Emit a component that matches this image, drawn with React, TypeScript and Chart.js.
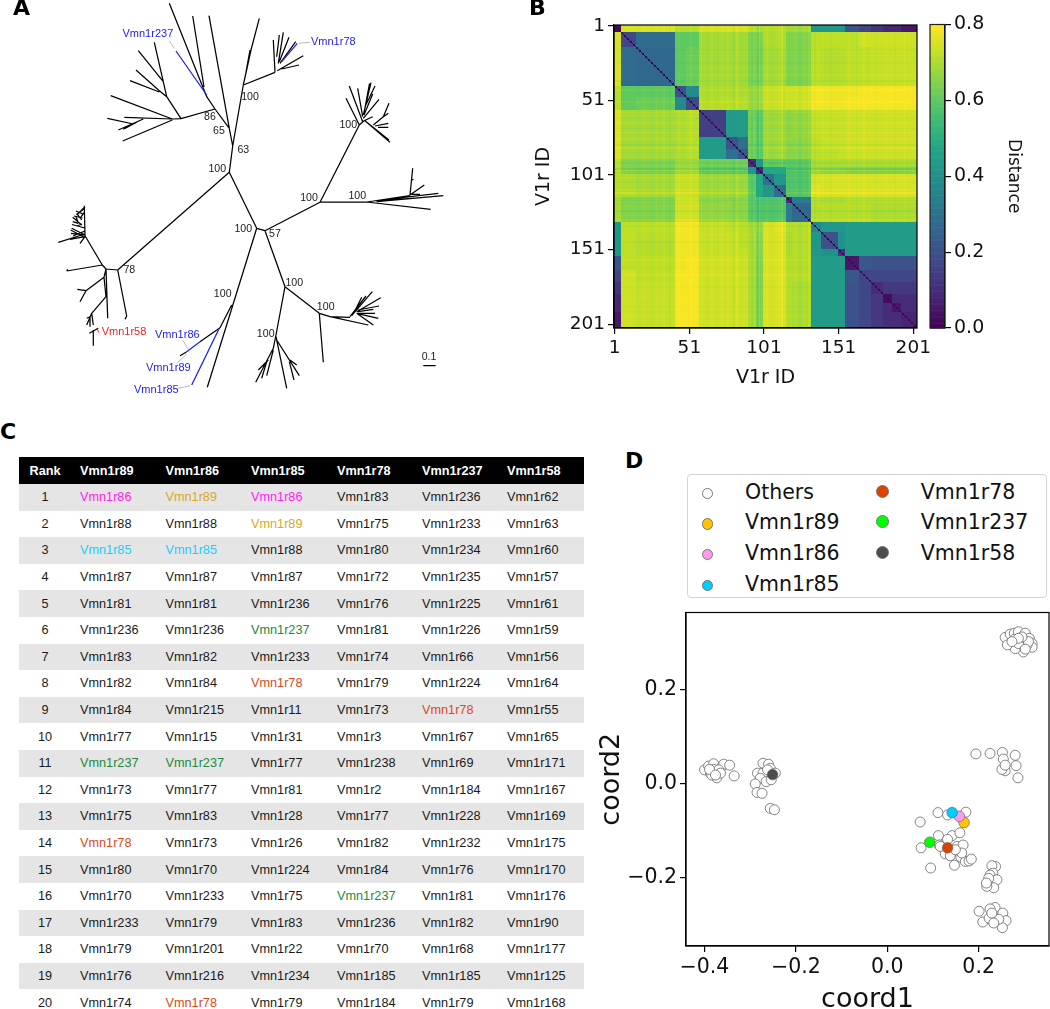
import React, { useEffect, useRef } from "react";
import { Chart, registerables } from "chart.js";

Chart.register(...registerables);

const SANS = "'DejaVu Sans'";
const ARIAL = "'Liberation Sans'";

/* ---------- Panel A : unrooted tree, edges as [x1,y1,x2,y2] in tree units ---------- */
const treeEdgesBlack = [
  [229.3,172.3,232.7,146],[232.7,146,243.3,85],[243.3,85,251,50],[251,50,259.3,18.3],[246,72,250,50],
  [232.7,146,229.3,128.3],[229.3,128.3,215,109],[215,109,206.7,96.7],[229.3,128.3,209,15.7],
  [206.7,96.7,169.3,3.3],[204,87,192.7,16],
  [215,109,181,118.7],[181,118.7,166.7,96.7],[166.7,96.7,154.3,42.3],[163.3,81.7,138.3,50.7],
  [166.7,96.7,159.3,90.7],[159.3,90.7,136,70],[159.3,92,130,80.7],
  [181,118.7,172.3,119],[172.3,119,110.7,95.7],[172.3,119,124.3,117.3],[172.3,120,122.7,141],
  [143.3,119,118.3,130],[107.3,118.3,133.3,124],[136.7,122.3,123.3,129.3],[135,123,125,128.5],
  [243.3,85,275,72.3],[275,72.3,273.3,40],[276.7,56.7,279.3,35],[278.3,63.3,283.3,32.3],[279.3,61.7,289,37.3],
  [280,63.3,295.7,41.7],[277.3,70.7,303.3,55.7],[281.7,69,299,65],
  [229.3,172.3,256.7,228.3],[256.7,228.3,265,230.7],[265,230.7,320,202.3],
  [320,202.3,359.3,125],[359.3,125,364,120.7],[359.3,125,346,98.3],[362.7,121.7,349.3,86],[362.7,116.7,357.7,88.3],
  [363.3,115,371,82.7],[364,113,369.5,83.5],[365,106.7,375,86],[364,115,372.7,94],[363.3,118.3,379,99.3],
  [364,120.7,372.7,116.7],[365,120.7,390,142.3],[368,123.3,389,140],[373.3,125,383.3,116.7],[383.3,116.7,389,103.3],
  [382.7,117.3,388.3,113.3],[375,126,388.3,123.3],[378,127.3,388.3,127.3],
  [320,202,366.7,202],[366.7,202,410,195.7],[366.7,202,430.7,209.3],[376.7,201.7,443.3,195.7],[373.3,201,438.3,193.3],
  [385,200,430,197],[410,195,412.7,168.3],[410,195,424.3,185],[411.7,194.3,420,194.3],[411.7,180,413.5,179.3],
  [229.3,172.3,117.7,270],[117.7,270,106,269],[106,269,102.3,265],[117.7,270,126.7,316],[126.7,316,125,319.3],
  [106,269,107.7,318.3],[102.3,265,85,235.7],[85,235.7,84.3,205.7],[85,234,58.3,242.3],[83.3,236.7,70.7,230],
  [81.7,225,72.7,217.3],[85,206.7,76.7,215],[81.7,220,76.7,213.3],[85,235,71.7,228.3],[85,235,71,233.3],
  [85,236.7,70,239.3],[78.3,223.3,72.7,221.7],[80,243.3,85,236.7],
  [83.8,209,78,213.5],[83,214,76,211],[82.5,218,74,216],[84.5,212,80,218],[82,224,77,226],[78,222,76,217],[84.8,228,72,224.5],[85,231,73,236],
  [102.3,265,66.7,271],[66.7,271,68,269.5],[104,277.3,86,290.7],[86,290.7,77.3,289.3],[86,290.7,80,301.7],
  [106,269,104,277.3],[104,277.3,106,296.7],[106,296.7,91.7,313.3],[91.7,313.3,86.7,325],[91.7,313.3,93.3,325],
  [90,316.7,90,326.7],[90,316.7,86.7,318.3],[98.3,328.3,89.3,333.3],[93.3,330,93.3,345.7],
  [256.7,228.3,207.3,387.3],[231.7,305,220,327.7],[220,327.7,200,341.7],[186,352.3,180,355.7],
  [265,230.7,285,286.7],[285,286.7,319.3,313.3],[319.3,313.3,323.3,362.3],[319.3,313.3,330,316.7],[330,316.7,350,317.3],
  [330,316.7,368.3,325],[350,316.7,366,296],[351.7,315.7,372.3,291.7],[353.3,314,361.7,297.3],[356.7,311.7,380.7,297.7],
  [358,310,379,306],[358,311.7,373.3,309.3],[356.7,313.3,375,313.3],[356.7,313.3,378.3,318.3],[356.7,313.3,373.3,325],
  [285,286.7,276,335],[276,335,273.3,348.3],[273.3,348.3,255.7,382.3],[273.3,350,266.7,375.7],[268.3,360,258.3,370],
  [266.7,361.7,261.7,378.3],[276,336.7,286.7,388.3],[276.7,340,299.3,375.7],[290,360,296.7,365],[289.3,361.7,294,380],
  [423.3,365.7,435.7,365.7],
];
const treeEdgesBlue = [
  [206.7,95,176,51],[281.7,61.7,297.3,43.3],[186,352.3,200,341.7],[219.3,328.3,191.7,385],
];
const treeEdgesRed = [[96.7,328.3,99,332.7]];
const treeEdgesGrey = [
  [169.3,40.7,174.3,48.3],[299,43.3,310,42.3],[182.7,340,188.3,349.3],[176.7,363.3,186.7,354],[178.3,388.3,190,385.7],
];
const treeGeneLabels = ["Vmn1r237","Vmn1r78","Vmn1r58","Vmn1r86","Vmn1r89","Vmn1r85"];
const treeGeneColors = ["#2222ee","#2222ee","#ee2222","#2222ee","#2222ee","#2222ee"];
const treeGeneX = [122.5,311,101.7,155,146,134];
const treeGeneY = [34,42,332.3,335,367.7,390];
const supportLabels = ["86","65","63","100","100","100","100","100","57","100","78","100","100","100","100","0.1"];
const supportX = [210,219,243.3,217.3,250,348.3,309,357.3,275,243.3,129.3,222.7,294.3,325.7,265.7,429];
const supportY = [116.7,130.7,150,169.3,96.7,125,198.3,196,234.3,228.7,270.3,294,283.3,307.3,334,357.3];

/* ---------- Panel B : distance matrix, read block by block ---------- */
const tickIds = [1, 51, 101, 151, 201];
const idCount = 203;
const groupLastId = [5,15,41,48,57,75,83,90,95,100,107,115,119,132,139,150,155,164,172,180,186,192,203];
// upper triangle: row i holds distances to groups i, i+1, ...
const groupDistance = [
  [.02,.75,.75,.71,.71,.75,.75,.75,.72,.70,.71,.71,.69,.69,.42,.42,.42,.21,.17,.12,.09,.09,.05],
  [.17,.28,.60,.60,.69,.69,.69,.65,.65,.70,.70,.65,.65,.72,.72,.72,.72,.74,.74,.74,.74,.74],
  [.27,.60,.62,.69,.69,.69,.65,.64,.69,.69,.65,.65,.72,.71,.71,.72,.72,.73,.73,.73,.73],
  [.20,.38,.70,.70,.70,.68,.68,.73,.73,.74,.74,.79,.78,.78,.78,.79,.79,.79,.79,.79],
  [.18,.71,.71,.71,.68,.68,.73,.73,.74,.74,.79,.78,.78,.79,.79,.79,.79,.79,.79],
  [.15,.43,.44,.63,.60,.68,.68,.66,.67,.73,.73,.73,.74,.74,.74,.74,.74,.74],
  [.21,.29,.63,.60,.68,.68,.66,.66,.72,.73,.73,.74,.74,.74,.74,.74,.74],
  [.22,.63,.60,.68,.68,.66,.66,.72,.72,.73,.74,.74,.74,.74,.74,.74],
  [.10,.42,.60,.60,.60,.60,.70,.70,.70,.70,.70,.70,.70,.70,.70],
  [.10,.48,.48,.58,.58,.68,.66,.66,.65,.65,.65,.65,.65,.65],
  [.30,.42,.58,.58,.75,.75,.75,.75,.75,.75,.75,.75,.75],
  [.28,.58,.58,.76,.75,.75,.75,.75,.75,.75,.75,.75],
  [.10,.33,.71,.70,.70,.71,.71,.71,.71,.71,.71],
  [.27,.71,.71,.71,.71,.71,.70,.70,.70,.70],
  [.36,.42,.42,.44,.44,.44,.44,.44,.44],
  [.20,.40,.44,.44,.44,.44,.44,.44],
  [.12,.44,.44,.44,.44,.44,.44],
  [.05,.22,.20,.20,.20,.20],
  [.17,.17,.17,.17,.17],
  [.10,.13,.13,.13],
  [.03,.10,.10],
  [.05,.10],
  [.08],
];
// single receptors that read a little lighter (+) or darker (-) than their block
const stripeIds = [9,17,21,26,29,34,38,44,52,59,63,66,70,73,77,81,83,86,93,97,98,103,106,111,113,118,122,125,128,131,135,141,146,158,163,168,176,183,189,195];
const stripeDelta = [.01,-.012,.014,-.01,.012,.01,-.014,.012,.015,.015,-.012,.012,-.015,.014,.012,-.02,.02,-.014,-.02,-.03,.03,.012,-.012,.014,.035,-.014,.012,-.018,.012,.02,-.012,.012,-.012,.012,-.012,.014,-.01,.012,-.012,.014];

const viridis = ["#440154","#482475","#414487","#355f8d","#2a788e","#21918c","#22a884","#43bf71","#7ad151","#bddf26","#fde725"];
const colorbarMax = 0.8;
const colorbarTicks = [0, 0.2, 0.4, 0.6, 0.8];

function rgb(hex: string) {
  return [1, 3, 5].map((i) => parseInt(hex.slice(i, i + 2), 16));
}
function viridisColor(v: number) {
  const t = Math.max(0, Math.min(1, v / colorbarMax)) * (viridis.length - 1);
  const i = Math.min(viridis.length - 2, Math.floor(t));
  const a = rgb(viridis[i]);
  const b = rgb(viridis[i + 1]);
  const f = t - i;
  return `rgb(${a.map((c, k) => Math.round(c + (b[k] - c) * f)).join(",")})`;
}
function groupOf(id: number) {
  return groupLastId.findIndex((end) => id <= end);
}
function buildCells() {
  const shade: Record<number, number> = {};
  stripeIds.forEach((id, k) => (shade[id] = stripeDelta[k]));
  const cells: { x: number; y: number; v: number }[] = [];
  for (let y = 1; y <= idCount; y++) {
    for (let x = 1; x <= idCount; x++) {
      const a = Math.min(groupOf(x), groupOf(y));
      const b = Math.max(groupOf(x), groupOf(y));
      let v = groupDistance[a][b - a];
      if (x === y) v = 0.005;
      else if (v > 0.5) v += (shade[x] || 0) + (shade[y] || 0);
      cells.push({ x, y, v });
    }
  }
  return cells;
}

/* ---------- Panel C : nearest receptors ---------- */
const tableHeaders = ["Rank","Vmn1r89","Vmn1r86","Vmn1r85","Vmn1r78","Vmn1r237","Vmn1r58"];
const ranks = [1,2,3,4,5,6,7,8,9,10,11,12,13,14,15,16,17,18,19,20];
const nearest89 = [86,88,85,87,81,236,83,82,84,77,237,73,75,78,80,70,233,79,76,74];
const nearest86 = [89,88,85,87,81,236,82,84,215,15,237,77,83,73,70,233,79,201,216,78];
const nearest85 = [86,89,88,87,236,237,233,78,11,31,77,81,28,26,224,75,83,22,234,79];
const nearest78 = [83,75,80,72,76,81,74,79,73,3,238,2,77,82,84,237,236,70,185,184];
const nearest237 = [236,233,234,235,225,226,66,224,78,67,69,184,228,232,76,81,82,68,185,79];
const nearest58 = [62,63,60,57,61,59,56,64,55,65,171,167,169,175,170,176,90,177,125,168];
const highlight: Record<number, string> = { 86: "#ff22ee", 89: "#d9a81c", 85: "#22ccff", 237: "#1a8a3a", 78: "#d84a1a" };
const columnWidths = [61, 85.5, 85.5, 86, 85, 85, 77];

/* ---------- Panel D : embedding ---------- */
const others: number[][] = [
  [-.400,.030],[-.391,.038],[-.380,.043],[-.387,.023],[-.373,.013],[-.362,.037],[-.358,.042],[-.345,.040],[-.380,.031],[-.369,.030],[-.384,.019],[-.389,.031],[-.365,.023],[-.376,.019],[-.335,.017],
  [-.272,.044],[-.260,.042],[-.256,.033],[-.284,.023],[-.272,.023],[-.262,.030],[-.245,.023],[-.278,.012],[-.265,.005],[-.254,.009],[-.289,.000],[-.285,-.018],[-.274,-.020],[-.256,-.052],[-.247,-.055],
  [.258,.312],[.269,.319],[.278,.321],[.287,.324],[.302,.321],[.311,.310],[.317,.299],[.317,.291],[.298,.281],[.280,.288],[.263,.296],[.278,.308],[.295,.303],[.306,.296],[.287,.299],[.309,.303],[.302,.287],[.295,.313],[.287,.310],[.273,.303],
  [.194,.064],[.225,.065],[.252,.067],[.254,.053],[.280,.061],[.282,.039],[.258,.028],[.251,.031],[.286,.013],[.258,.040],
  [.111,-.061],[.132,-.066],[.172,-.060],[.072,-.081],[.074,-.136],[.095,-.179],[.112,-.110],[.142,-.110],[.159,-.104],[.132,-.118],[.114,-.130],[.153,-.133],[.166,-.130],[.127,-.149],[.138,-.153],[.147,-.173],[.161,-.156],[.171,-.165],[.179,-.164],[.184,-.160],[.163,-.147],[.149,-.140],[.116,-.133],
  [.237,-.176],[.229,-.174],[.231,-.190],[.225,-.194],[.240,-.204],[.222,-.201],[.233,-.221],[.218,-.218],[.217,-.211],
  [.201,-.271],[.236,-.263],[.225,-.266],[.253,-.275],[.260,-.291],[.252,-.306],[.209,-.294],[.223,-.286],[.244,-.288],[.229,-.275],[.233,-.296],
];
const seriesNames = ["Vmn1r89","Vmn1r86","Vmn1r85","Vmn1r78","Vmn1r237","Vmn1r58"];
const seriesColors = ["#ffc400","#ff99ee","#00ccff","#d94400","#00ff00","#4d4d4d"];
const seriesCoord1 = [.168,.158,.142,.132,.093,-.251];
const seriesCoord2 = [-.082,-.069,-.061,-.136,-.124,.020];
const coordXTicks = [-0.4,-0.2,0,0.2];
const coordYTicks = [-0.2,0,0.2];

/* ---------- helpers ---------- */
function edgePoints(edges: number[][]) {
  const out: ({ x: number; y: number } | { x: null; y: null })[] = [];
  edges.forEach(([a, b, c, d]) => {
    out.push({ x: a, y: b }, { x: c, y: d }, { x: null, y: null });
  });
  return out;
}
function edgeDataset(edges: number[][], color: string, width: number) {
  return { data: edgePoints(edges) as any, showLine: true, borderColor: color, borderWidth: width, pointRadius: 0, spanGaps: false, tension: 0 };
}
const frame = (color: string, width: number) => ({
  id: "frame",
  afterDraw(chart: any) {
    const { left, top, right, bottom } = chart.chartArea;
    const c = chart.ctx;
    c.save();
    c.strokeStyle = color;
    c.lineWidth = width;
    c.strokeRect(left, top, right - left, bottom - top);
    c.restore();
  },
});
const pin = (size: number) => (scale: any) => {
  if (scale.isHorizontal()) scale.height = size;
  else scale.width = size;
  scale.paddingLeft = 0;
  scale.paddingRight = 0;
  scale.paddingTop = 0;
  scale.paddingBottom = 0;
};
const setTicks = (values: number[]) => (scale: any) => {
  scale.ticks = values.map((value) => ({ value }));
};
const signed = (digits: number) => (v: any) => Number(v).toFixed(digits).replace("-", "\u2212");

const base = { responsive: false, animation: false as const, devicePixelRatio: 1, events: [] as any[], plugins: { legend: { display: false }, tooltip: { enabled: false } } };

const letterStyle = (left: number, top: number): React.CSSProperties => ({
  position: "absolute", left, top, font: `bold 22px ${SANS}`, color: "#000", lineHeight: "22px", zIndex: 2,
});

export default function App() {
  const treeRef = useRef<HTMLCanvasElement>(null);
  const heatRef = useRef<HTMLCanvasElement>(null);
  const barRef = useRef<HTMLCanvasElement>(null);
  const scatterRef = useRef<HTMLCanvasElement>(null);

  useEffect(() => {
    const tree = new Chart(treeRef.current!, {
      type: "scatter",
      data: {
        // Chart.js paints the first dataset last
        datasets: [
          edgeDataset(treeEdgesRed, "#ee2222", 1),
          edgeDataset(treeEdgesBlue, "#2222ee", 1.3),
          edgeDataset(treeEdgesBlack, "#000000", 1.25),
          edgeDataset(treeEdgesGrey, "#aaaaaa", 0.8),
        ],
      },
      options: {
        ...base,
        layout: { padding: 0, autoPadding: false },
        scales: {
          x: { type: "linear", display: false, min: 0, max: 480 },
          y: { type: "linear", display: false, min: 0, max: 410, reverse: true },
        },
      },
      plugins: [
        {
          id: "treeText",
          afterDatasetsDraw(chart: any) {
            const c = chart.ctx;
            const { x, y } = chart.scales;
            c.save();
            c.textBaseline = "middle";
            c.font = `11px ${ARIAL}`;
            c.textAlign = "left";
            treeGeneLabels.forEach((t, i) => {
              c.fillStyle = treeGeneColors[i];
              c.fillText(t, x.getPixelForValue(treeGeneX[i]), y.getPixelForValue(treeGeneY[i]));
            });
            c.font = `10.6px ${ARIAL}`;
            c.textAlign = "center";
            c.fillStyle = "#222";
            supportLabels.forEach((t, i) => {
              c.fillText(t, x.getPixelForValue(supportX[i]), y.getPixelForValue(supportY[i]));
            });
            c.restore();
          },
        },
      ],
    } as any);

    const axisBase = (size: number) => ({
      type: "linear",
      min: 0.5,
      max: idCount + 0.5,
      afterBuildTicks: setTicks(tickIds),
      afterFit: pin(size),
      grid: { drawOnChartArea: false, drawTicks: true, tickLength: 6, color: "#000", lineWidth: 1.2 },
      border: { display: true, color: "#000", width: 1.2 },
      ticks: { autoSkip: false, maxRotation: 0, minRotation: 0, color: "#111", padding: 3, font: { family: SANS, size: 18.5 }, callback: (v: any) => String(v) },
    });
    const heat = new Chart(heatRef.current!, {
      type: "scatter",
      data: { datasets: [{ label: "Distance", data: buildCells() as any, pointRadius: 0, showLine: false }] },
      options: {
        ...base,
        layout: { padding: { top: 25, right: 13, left: 0, bottom: 0 }, autoPadding: false },
        scales: {
          x: { ...axisBase(67), title: { display: true, text: "V1r ID", color: "#111", font: { family: SANS, size: 19 }, padding: { top: 0, bottom: 6 } } },
          y: { ...axisBase(84), reverse: true, title: { display: true, text: "V1r ID", color: "#111", font: { family: SANS, size: 19 }, padding: { top: 3, bottom: 0 } } },
        },
      },
      plugins: [
        {
          id: "cells",
          beforeDraw(chart: any) {
            const c = chart.ctx;
            const { x, y } = chart.scales;
            chart.data.datasets[0].data.forEach((d: any) => {
              const x0 = Math.round(x.getPixelForValue(d.x - 0.5));
              const x1 = Math.round(x.getPixelForValue(d.x + 0.5));
              const y0 = Math.round(y.getPixelForValue(d.y - 0.5));
              const y1 = Math.round(y.getPixelForValue(d.y + 0.5));
              c.fillStyle = viridisColor(d.v);
              c.fillRect(x0, y0, x1 - x0, y1 - y0);
            });
          },
        },
        frame("#000", 1.2),
      ],
    } as any);

    const bar = new Chart(barRef.current!, {
      type: "scatter",
      data: { datasets: [{ data: [] }] },
      options: {
        ...base,
        layout: { padding: { top: 24.5, bottom: 17, left: 4, right: 0 }, autoPadding: false },
        scales: {
          x: { type: "linear", display: false, min: 0, max: 1 },
          y: {
            type: "linear",
            position: "right",
            min: 0,
            max: colorbarMax,
            afterBuildTicks: setTicks(colorbarTicks),
            afterFit: pin(105),
            grid: { drawOnChartArea: false, drawTicks: true, tickLength: 6, color: "#000", lineWidth: 1.2 },
            border: { display: true, color: "#000", width: 1.2 },
            ticks: { color: "#111", padding: 3, font: { family: SANS, size: 19 }, callback: signed(1) },
            title: { display: true, text: "Distance", color: "#111", font: { family: SANS, size: 17 }, padding: { top: 26, bottom: 0 } },
          },
        },
      },
      plugins: [
        {
          id: "ramp",
          beforeDraw(chart: any) {
            const c = chart.ctx;
            const { y } = chart.scales;
            const { left, right } = chart.chartArea;
            const steps = 256;
            for (let i = 0; i < steps; i++) {
              const v0 = (i / steps) * colorbarMax;
              const v1 = ((i + 1) / steps) * colorbarMax;
              const top = y.getPixelForValue(v1);
              c.fillStyle = viridisColor((v0 + v1) / 2);
              c.fillRect(left, top, right - left, y.getPixelForValue(v0) - top + 0.6);
            }
          },
        },
        frame("#222", 1.2),
      ],
    } as any);

    const coordAxis = (values: number[], size: number, min: number, max: number, text: string, padding: any) => ({
      type: "linear",
      min,
      max,
      afterBuildTicks: setTicks(values),
      afterFit: pin(size),
      grid: { drawOnChartArea: false, drawTicks: true, tickLength: 6, color: "#000", lineWidth: 1.2 },
      border: { display: true, color: "#000", width: 1.2 },
      ticks: { autoSkip: false, maxRotation: 0, minRotation: 0, color: "#111", padding: 3, font: { family: SANS, size: 20.5 }, callback: signed(1) },
      title: { display: true, text, color: "#111", font: { family: SANS, size: 27 }, padding },
    });
    const scatter = new Chart(scatterRef.current!, {
      type: "scatter",
      data: {
        datasets: [
          {
            label: "Others",
            data: others.map(([x, y]) => ({ x, y })),
            backgroundColor: "#ffffff",
            borderColor: "#666666",
            borderWidth: 0.8,
            pointRadius: 5,
            order: 10,
          },
          ...seriesNames.map((label, i) => ({
            label,
            data: [{ x: seriesCoord1[i], y: seriesCoord2[i] }],
            backgroundColor: seriesColors[i],
            borderColor: "#666666",
            borderWidth: 0.7,
            pointRadius: 5.3,
            order: 6 - i,
          })),
        ],
      },
      options: {
        ...base,
        layout: { padding: { top: 12.5, right: 1, left: 0, bottom: 0 }, autoPadding: false },
        scales: {
          x: coordAxis(coordXTicks, 73, -0.4405, 0.354, "coord1", { top: 0, bottom: 3 }),
          y: coordAxis(coordYTicks, 90, -0.345, 0.365, "coord2", { top: 0, bottom: 0 }),
        },
      },
      plugins: [frame("#000", 1.2)],
    } as any);

    return () => {
      tree.destroy();
      heat.destroy();
      bar.destroy();
      scatter.destroy();
    };
  }, []);

  const nearestCols = [nearest89, nearest86, nearest85, nearest78, nearest237, nearest58];
  const legendLeft = ["Others", ...seriesNames.slice(0, 3)];
  const legendRight = seriesNames.slice(3);
  const legendText: React.CSSProperties = { position: "absolute", font: `20.5px ${SANS}`, color: "#111", lineHeight: "24px", whiteSpace: "nowrap" };
  const dot = (left: number, top: number, size: number, bg: string, border: string): React.CSSProperties => ({
    position: "absolute", left: left - size / 2, top: top - size / 2, width: size, height: size, boxSizing: "border-box", borderRadius: "50%", background: bg, border: `1px solid ${border}`,
  });

  return (
    <div style={{ position: "absolute", left: 0, top: 0, width: 1050, height: 1009, overflow: "hidden", background: "#fff" }}>
      <canvas ref={treeRef} width={480} height={410} style={{ position: "absolute", left: 0, top: 0 }} />
      <canvas ref={heatRef} width={400} height={395} style={{ position: "absolute", left: 530, top: 0 }} />
      <canvas ref={barRef} width={124} height={345} style={{ position: "absolute", left: 926, top: 0 }} />
      <canvas ref={scatterRef} width={454} height={419} style={{ position: "absolute", left: 596, top: 600 }} />

      <div style={letterStyle(13, -3)}>A</div>
      <div style={letterStyle(529, -3)}>B</div>
      <div style={letterStyle(0, 421)}>C</div>
      <div style={letterStyle(625, 450)}>D</div>

      <table style={{ position: "absolute", left: 19, top: 457, width: 565, tableLayout: "fixed", borderCollapse: "collapse", font: `12.7px ${ARIAL}`, color: "#1a1a1a" }}>
        <colgroup>
          {columnWidths.map((w, i) => (
            <col key={i} style={{ width: w }} />
          ))}
        </colgroup>
        <thead>
          <tr style={{ height: 27, background: "#000", color: "#fff", fontWeight: "bold" }}>
            {tableHeaders.map((h, i) => (
              <th key={h} style={{ padding: i === 0 ? "0 9px 0 0" : 0, textAlign: i === 0 ? "center" : "left" }}>{h}</th>
            ))}
          </tr>
        </thead>
        <tbody>
          {ranks.map((rank, r) => (
            <tr key={rank} style={{ height: 26.6, background: r % 2 === 0 ? "#e5e5e5" : "#fff" }}>
              <td style={{ padding: "0 9px 0 0", textAlign: "center" }}>{rank}</td>
              {nearestCols.map((col, c) => (
                <td key={c} style={{ padding: 0, color: highlight[col[r]] || "#1a1a1a" }}>{`Vmn1r${col[r]}`}</td>
              ))}
            </tr>
          ))}
        </tbody>
      </table>

      <div style={{ position: "absolute", left: 686.5, top: 474, width: 360, height: 124, boxSizing: "border-box", border: "1.5px solid #d4d4d4", borderRadius: 4, background: "#fff" }} />
      {legendLeft.map((name, i) => (
        <React.Fragment key={name}>
          <div style={dot(707.3, 493.3 + i * 30.7, 11.5, i === 0 ? "#fff" : seriesColors[i - 1], "#777")} />
          <div style={{ ...legendText, left: 745, top: 479.7 + i * 30.7 }}>{name}</div>
        </React.Fragment>
      ))}
      {legendRight.map((name, i) => (
        <React.Fragment key={name}>
          <div style={dot(882.7, 491 + i * 30.7, 13, seriesColors[i + 3], "#777")} />
          <div style={{ ...legendText, left: 920.7, top: 479.7 + i * 30.7 }}>{name}</div>
        </React.Fragment>
      ))}
    </div>
  );
}
